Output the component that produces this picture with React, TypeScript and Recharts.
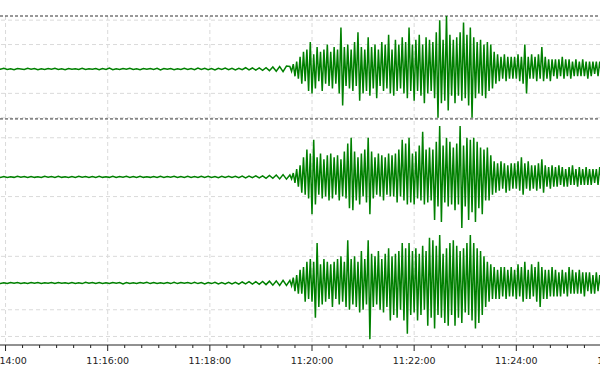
import React from "react";
import {
  LineChart,
  Line,
  XAxis,
  YAxis,
  CartesianGrid,
  ReferenceLine,
} from "recharts";

// seconds after 11:14:00
const MAJOR_TICKS = [0, 120, 240, 360, 480, 600, 720];
const MINOR_STEPS = [20, 40, 60, 80, 100];

// quiet part before the arrival: one sample every 4 s from t = -10
const QUIET_T0 = -10;
const QUIET_STEP = 4;
// amplitudes in tenths of a grid division
const QUIET_1 = [
  0.2, -0.1, 0.3, -0.2, 0.1, -0.3, 0.2, 0.0, -0.2, 0.3,
  -0.1, 0.2, -0.3, 0.1, -0.2, 0.2, -0.1, 0.3, -0.2, 0.1,
  -0.3, 0.2, -0.1, 0.1, -0.2, 0.3, -0.2, 0.1, -0.1, 0.2,
  -0.3, 0.2, -0.2, 0.4, -0.3, 0.1, -0.2, 0.2, -0.1, 0.3,
  -0.2, 0.1, -0.3, 0.2, -0.1, 0.2, -0.2, 0.3, -0.4, 0.2,
  -0.1, 0.2, -0.3, 0.1, -0.2, 0.3, -0.2, 0.2, -0.3, 0.4,
  -0.2, 0.3, -0.3, 0.2, -0.4, 0.3, -0.2, 0.4, -0.3, 0.3,
  -0.4, 0.3, -0.3, 0.5, -0.4, 0.4, -0.5, 0.4, -0.6, 0.5,
  -0.7, 0.8, -0.9, 1.0, -1.1, 1.2,
];
const QUIET_2 = [
  0.3, -0.2, 0.2, -0.3, 0.1, -0.2, 0.3, -0.1, 0.2, -0.3,
  0.2, -0.2, 0.1, -0.3, 0.3, -0.1, 0.2, -0.2, 0.3, -0.2,
  0.1, -0.3, 0.2, -0.2, 0.3, -0.1, 0.2, -0.3, 0.2, -0.2,
  0.3, -0.2, 0.1, -0.2, 0.3, -0.3, 0.2, -0.1, 0.3, -0.2,
  0.2, -0.3, 0.3, -0.2, 0.1, -0.2, 0.2, -0.3, 0.3, -0.2,
  0.2, -0.1, 0.3, -0.3, 0.2, -0.2, 0.3, -0.2, 0.2, -0.3,
  0.4, -0.2, 0.3, -0.3, 0.2, -0.4, 0.3, -0.3, 0.4, -0.3,
  0.3, -0.4, 0.4, -0.5, 0.4, -0.4, 0.6, -0.5, 0.6, -0.7,
  0.8, -0.7, 1.0, -1.0, 1.2, -1.1,
];
const QUIET_3 = [
  0.2, -0.2, 0.1, -0.2, 0.2, -0.1, 0.2, -0.2, 0.1, -0.2,
  0.2, -0.1, 0.2, -0.2, 0.1, -0.1, 0.2, -0.2, 0.2, -0.1,
  0.1, -0.2, 0.2, -0.2, 0.1, -0.2, 0.3, -0.1, 0.2, -0.2,
  0.2, -0.2, 0.1, -0.2, 0.2, -0.1, 0.2, -0.3, 0.2, -0.2,
  0.1, -0.2, 0.2, -0.1, 0.3, -0.2, 0.2, -0.2, 0.1, -0.2,
  0.2, -0.2, 0.3, -0.2, 0.2, -0.1, 0.2, -0.2, 0.3, -0.2,
  0.2, -0.3, 0.2, -0.2, 0.3, -0.3, 0.2, -0.3, 0.3, -0.3,
  0.3, -0.4, 0.4, -0.3, 0.5, -0.4, 0.5, -0.5, 0.6, -0.6,
  0.7, -0.8, 0.8, -0.9, 1.0, -0.9,
];

// shaking from 11:19:34 on: one sample every 2 s
const ACTIVE_T0 = 334;
const ACTIVE_STEP = 2;
const ACTIVE_1 = [
  1, -1, 2, -3, 3, -4, 5, -6, 7, -5, 8, -9,
  11, -10, 6, -8, 9, -5, 7, -9, 8, -6, 10, -7,
  7, -8, 9, -6, 8, -10, 17, -15, 9, -7, 10, -8,
  8, -9, 11, -7, 15, -13, 9, -10, 8, -9, 13, -11,
  9, -8, 10, -12, 8, -7, 11, -9, 10, -8, 14, -10,
  8, -11, 12, -9, 10, -8, 13, -10, 11, -12, 17, -9,
  10, -13, 12, -9, 14, -11, 10, -14, 13, -10, 12, -9,
  11, -12, 15, -20, 20, -14, 12, -13, 22, -17, 14, -11,
  12, -14, 13, -11, 15, -13, 19, -12, 14, -15, 17, -20,
  13, -12, 11, -10, 12, -11, 10, -12, 11, -9, 10, -8,
  7, -6, 6, -5, 5, -4, 6, -5, 5, -4, 5, -4,
  5, -4, 6, -5, 5, -6, 10, -10, 5, -4, 6, -4,
  5, -5, 6, -4, 9, -5, 5, -4, 4, -5, 4, -3,
  4, -4, 4, -3, 5, -4, 4, -3, 4, -4, 3, -3,
  4, -3, 3, -3, 4, -3, 3, -4, 3, -3, 3, -2,
  3, -3, 3, -2, 3, -3, 2, -3, 3, -2, 3, -2,
];
const ACTIVE_2 = [
  1, -1, 2, -3, 4, -5, 6, -8, 10, -9, 14, -11,
  12, -19, 19, -14, 10, -9, 12, -11, 9, -10, 11, -12,
  12, -11, 10, -9, 11, -12, 9, -10, 13, -11, 17, -16,
  20, -17, 13, -12, 10, -14, 12, -10, 14, -13, 20, -19,
  13, -11, 10, -9, 12, -10, 11, -12, 10, -9, 12, -10,
  11, -10, 12, -13, 14, -10, 19, -12, 17, -14, 20, -13,
  12, -14, 13, -11, 16, -12, 23, -14, 14, -13, 15, -12,
  14, -22, 18, -15, 26, -23, 16, -13, 20, -15, 18, -14,
  15, -17, 17, -14, 26, -26, 16, -15, 20, -22, 19, -18,
  20, -23, 18, -16, 15, -19, 14, -12, 15, -12, 11, -9,
  8, -8, 7, -7, 8, -6, 7, -8, 6, -7, 7, -6,
  7, -6, 8, -7, 10, -9, 7, -6, 8, -7, 6, -6,
  6, -7, 7, -6, 9, -8, 6, -5, 5, -6, 6, -5,
  5, -5, 6, -4, 5, -5, 4, -5, 5, -4, 6, -4,
  4, -5, 5, -4, 4, -4, 5, -4, 4, -4, 4, -3,
  4, -4, 5, -3, 4, -4, 3, -4, 4, -3, 3, -3,
];
const ACTIVE_3 = [
  1, -1, 2, -3, 3, -4, 5, -4, 6, -7, 8, -6,
  9, -7, 8, -13, 15, -9, 7, -8, 9, -7, 8, -6,
  7, -9, 8, -6, 9, -8, 10, -7, 8, -9, 16, -10,
  9, -8, 10, -9, 8, -11, 12, -10, 9, -8, 16, -21,
  11, -9, 10, -8, 12, -10, 9, -11, 11, -9, 13, -14,
  10, -12, 11, -13, 12, -10, 15, -14, 13, -19, 15, -12,
  12, -11, 13, -14, 11, -12, 14, -10, 12, -16, 17, -13,
  16, -17, 14, -12, 18, -13, 11, -15, 13, -16, 15, -12,
  16, -16, 14, -13, 12, -15, 13, -11, 15, -12, 18, -14,
  15, -17, 13, -15, 12, -12, 10, -9, 8, -7, 7, -6,
  6, -6, 5, -6, 6, -5, 6, -6, 5, -5, 6, -5,
  5, -6, 7, -5, 6, -7, 8, -6, 5, -6, 7, -5,
  6, -7, 8, -9, 6, -6, 5, -6, 5, -5, 6, -5,
  5, -5, 4, -5, 5, -4, 4, -5, 6, -4, 5, -4,
  4, -4, 5, -4, 4, -5, 4, -3, 4, -4, 3, -4,
  4, -3, 3, -4, 3, -3, 4, -3, 3, -3, 3, -3,
];

const DATA = [
  ...QUIET_1.map((v, i) => ({
    t: QUIET_T0 + i * QUIET_STEP,
    a: v,
    b: QUIET_2[i],
    c: QUIET_3[i],
  })),
  ...ACTIVE_1.map((v, i) => ({
    t: ACTIVE_T0 + i * ACTIVE_STEP,
    a: v,
    b: ACTIVE_2[i],
    c: ACTIVE_3[i],
  })),
];

const ALL_TICKS = MAJOR_TICKS.flatMap((m) => [m, ...MINOR_STEPS.map((s) => m + s)]);
const GRID_1 = [-20, -10, 10, 20];
const GRID_2 = [-20, -10, 10, 20];
const GRID_3 = [-20, -10, 10];

const GREEN = "#008000";
const FONT = "'DejaVu Sans', sans-serif";

function clock(t: number) {
  const s = 11 * 3600 + 14 * 60 + t;
  const p = (n: number) => String(n).padStart(2, "0");
  return `${p(Math.floor(s / 3600))}:${p(Math.floor((s % 3600) / 60))}:${p(s % 60)}`;
}

function TimeTick(props: any) {
  const { x, y, payload } = props;
  const major = payload.value % 120 === 0;
  return (
    <g>
      <line x1={x} x2={x} y1={y} y2={y + (major ? 6 : 3)} stroke="#222" strokeWidth={1} />
      {major && (
        <text x={x} y={y + 19} textAnchor="middle" fontFamily={FONT} fontSize={9.5} fill="#222">
          {clock(payload.value)}
        </text>
      )}
    </g>
  );
}

export default function App() {
  return (
    <div style={{ position: "absolute", left: 0, top: 0, width: 600, height: 380, overflow: "hidden", background: "#fff" }}>
      <div style={{ position: "absolute", left: -20, top: 0 }}>
        <LineChart width={664} height={375} data={DATA} margin={{ top: 16, right: 0, bottom: 0, left: 0 }}>
          <XAxis
            dataKey="t"
            type="number"
            domain={[-30, 750]}
            allowDataOverflow
            ticks={ALL_TICKS}
            interval={0}
            height={30}
            tickLine={false}
            tickSize={0}
            tickMargin={0}
            axisLine={{ stroke: "#222", strokeWidth: 1 }}
            tick={<TimeTick />}
          />
          <YAxis yAxisId="t1" hide type="number" domain={[-113.1, 21.7]} allowDataOverflow />
          <YAxis yAxisId="t2" hide type="number" domain={[-85.7, 82.1]} allowDataOverflow />
          <YAxis yAxisId="t3" hide type="number" domain={[-23.2, 100]} allowDataOverflow />
          <CartesianGrid horizontal={false} verticalValues={MAJOR_TICKS} stroke="#dadada" strokeDasharray="4 3" yAxisId="t1" />
          <CartesianGrid vertical={false} horizontalValues={GRID_1} yAxisId="t1" stroke="#dadada" strokeDasharray="4 3" />
          <CartesianGrid vertical={false} horizontalValues={GRID_2} yAxisId="t2" stroke="#dadada" strokeDasharray="4 3" />
          <CartesianGrid vertical={false} horizontalValues={GRID_3} yAxisId="t3" stroke="#dadada" strokeDasharray="4 3" />
          <ReferenceLine yAxisId="t1" y={21.7} stroke="#333" strokeDasharray="3 2" />
          <ReferenceLine yAxisId="t2" y={29.6} stroke="#333" strokeDasharray="3 2" />
          <Line yAxisId="t1" dataKey="a" type="linear" stroke={GREEN} strokeWidth={1.5} dot={false} isAnimationActive={false} />
          <Line yAxisId="t2" dataKey="b" type="linear" stroke={GREEN} strokeWidth={1.5} dot={false} isAnimationActive={false} />
          <Line yAxisId="t3" dataKey="c" type="linear" stroke={GREEN} strokeWidth={1.5} dot={false} isAnimationActive={false} />
        </LineChart>
      </div>
    </div>
  );
}
